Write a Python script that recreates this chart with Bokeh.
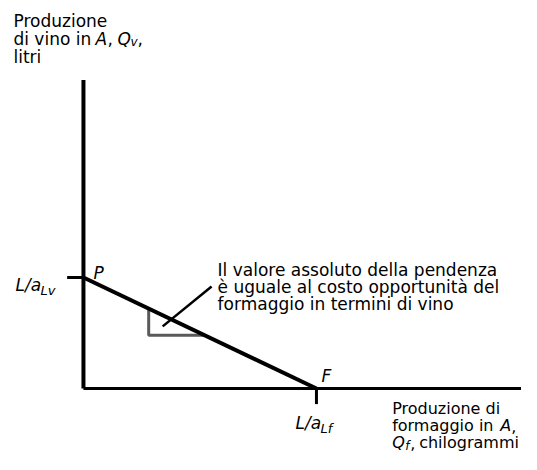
from bokeh.plotting import figure
from bokeh.models import Range1d
from bokeh.core.properties import value
from bokeh.embed import file_html
from bokeh.resources import INLINE

# ---- data (conceptual units: kg of cheese on x, litres of wine on y) ----
wine_max = 50        # L/a_Lv : intercept on the wine axis (point P)
cheese_max = 100     # L/a_Lf : intercept on the cheese axis (point F)
y_axis_top = 139
x_axis_end = 193
tick_len = 7
tri_x = [28, 52]     # horizontal extent of the slope triangle
leader_x = [34, 55]
leader_y = [28, 46]

y_title = ["Produzione", "di vino in", "litri"]
x_title = ["Produzione di", "formaggio in", "chilogrammi"]
annot_lines = ["Il valore assoluto della pendenza",
               "è uguale al costo opportunità del",
               "formaggio in termini di vino"]

FONT = value("DejaVu Sans")
BASE = -5   # baseline correction for the renderer

p = figure(width=521, height=454, output_backend="svg", toolbar_location=None,
           x_range=Range1d(-35.6, 188.0), y_range=Range1d(-29.7, 174.8),
           x_axis_location=None, y_axis_location=None, min_border=0,
           background_fill_color="white", border_fill_color="white")
p.grid.visible = False
p.outline_line_color = None

# axes
p.line(x=[0, 0], y=[0, y_axis_top], line_color="black", line_width=4)
p.line(x=[0, x_axis_end], y=[0, 0], line_color="black", line_width=3)
# ticks
p.line(x=[-tick_len, 0], y=[wine_max, wine_max], line_color="black", line_width=3)
p.line(x=[cheese_max, cheese_max], y=[0, -tick_len], line_color="black", line_width=3)

# slope triangle
slope = wine_max / cheese_max
top_y = wine_max - slope * tri_x[0]
bot_y = wine_max - slope * tri_x[1]
p.line(x=[tri_x[0], tri_x[0], tri_x[1]], y=[top_y, bot_y, bot_y],
       line_color="#5a5a5a", line_width=3)

# production possibility frontier
p.line(x=[0, cheese_max], y=[wine_max, 0], line_color="black", line_width=4)

# leader line
p.line(x=leader_x, y=leader_y, line_color="black", line_width=2.5)


def label(x, y, txt, dx, dy, size="17px", italic=False):
    p.text(x=[x], y=[y], text=[txt], x_offset=dx, y_offset=dy + BASE,
           text_font=FONT, text_font_size=size,
           text_font_style="italic" if italic else "normal",
           text_color="black", text_baseline="alphabetic", text_align="left")


# y-axis title
label(0, y_axis_top, y_title[0], -70, -54)
label(0, y_axis_top, y_title[1], -70, -36)
label(0, y_axis_top, "A", 12, -36, italic=True)
label(0, y_axis_top, ",", 24, -36)
label(0, y_axis_top, "Q", 34, -36, italic=True)
label(0, y_axis_top, "v", 47, -33, size="12px", italic=True)
label(0, y_axis_top, ",", 54, -36)
label(0, y_axis_top, y_title[2], -70, -18)

# x-axis title
label(x_axis_end, 0, x_title[0], -141, 25, size="16px")
label(x_axis_end, 0, x_title[1], -141, 42, size="16px")
label(x_axis_end, 0, "A", -33, 42, size="16px", italic=True)
label(x_axis_end, 0, ",", -22, 42, size="16px")
label(x_axis_end, 0, "Q", -141, 59, size="16px", italic=True)
label(x_axis_end, 0, "f", -128, 62, size="12px", italic=True)
label(x_axis_end, 0, ",", -123, 59, size="16px")
label(x_axis_end, 0, x_title[2], -114, 59, size="16px")

# tick labels
label(0, wine_max, "L/a", -68, 12, italic=True)
label(0, wine_max, "Lv", -43, 18, size="13px", italic=True)
label(cheese_max, 0, "L/a", -21, 39, italic=True)
label(cheese_max, 0, "Lf", 4, 45, size="13px", italic=True)

# point labels
label(0, wine_max, "P", 10, 0, italic=True)
label(cheese_max, 0, "F", 5, -8, italic=True)

# annotation
for i, line in enumerate(annot_lines):
    label(leader_x[1], leader_y[1], line, 6, -11 + 17 * i)

open("out.html", "w").write(file_html(p, INLINE))
